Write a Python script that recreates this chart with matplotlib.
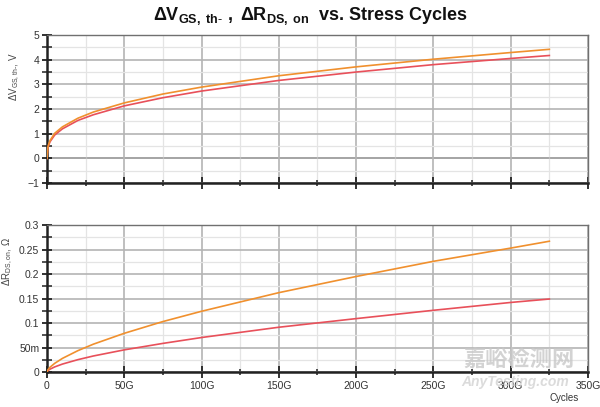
import matplotlib
matplotlib.use("Agg")
import matplotlib.pyplot as plt
from matplotlib.ticker import MultipleLocator, FuncFormatter

plt.rcParams['font.family'] = ['Liberation Sans', 'DejaVu Sans']
plt.rcParams['mathtext.fontset'] = 'custom'
plt.rcParams['mathtext.rm'] = 'Liberation Sans'
plt.rcParams['mathtext.it'] = 'Liberation Sans'
plt.rcParams['mathtext.bf'] = 'Liberation Sans:bold'

# cycles in G (1e9)
cycles = [0, 0.5, 1, 2, 5, 10, 20, 30, 50, 75, 100, 150, 200, 250, 300, 325]
dv_orange = [0, 0.43, 0.56, 0.73, 1.02, 1.28, 1.63, 1.88, 2.25, 2.61, 2.89, 3.35, 3.71, 4.02, 4.29, 4.42]
dv_red    = [0, 0.40, 0.52, 0.68, 0.95, 1.20, 1.54, 1.77, 2.13, 2.46, 2.73, 3.16, 3.50, 3.80, 4.05, 4.17]
dr_orange = [0, 0.0040, 0.0062, 0.0098, 0.0177, 0.0278, 0.0436, 0.0568, 0.079, 0.103, 0.124, 0.162, 0.195, 0.226, 0.253, 0.267]
dr_red    = [0, 0.0024, 0.0037, 0.0058, 0.0104, 0.0162, 0.0252, 0.0327, 0.0452, 0.0584, 0.0704, 0.0914, 0.109, 0.126, 0.142, 0.149]

ORANGE = '#F0902E'
RED = '#E8505A'

fig = plt.figure(figsize=(6.0, 4.07), dpi=100)
ax1 = fig.add_axes([0.0783, 0.550, 0.9017, 0.364])
ax2 = fig.add_axes([0.0783, 0.086, 0.9017, 0.361])

def style(ax, ymaj, ymin):
    ax.set_xlim(0, 350)
    ax.xaxis.set_major_locator(MultipleLocator(50))
    ax.xaxis.set_minor_locator(MultipleLocator(25))
    ax.yaxis.set_major_locator(MultipleLocator(ymaj))
    ax.yaxis.set_minor_locator(MultipleLocator(ymin))
    ax.grid(which='major', color='#b4b4b4', lw=1.2, zorder=0)
    ax.grid(which='minor', color='#e4e4e4', lw=0.9, zorder=0)
    for s in ['top', 'right']:
        ax.spines[s].set_color('#707070')
        ax.spines[s].set_linewidth(1.0)
    for s in ['left', 'bottom']:
        ax.spines[s].set_color('#222222')
        ax.spines[s].set_linewidth(1.8)
    ax.tick_params(which='major', direction='inout', length=9, width=1.3, color='#222222',
                   labelsize=7.5, labelcolor='#333333', pad=2)
    ax.tick_params(which='minor', direction='inout', length=5, width=1.1, color='#222222')
    ax.tick_params(axis='y', which='minor', length=7)
    ax.tick_params(axis='y', which='major', length=7)

style(ax1, 1, 0.5)
ax1.set_ylim(-1, 5)
ax1.axhline(0, color='#555555', lw=1.3, zorder=1)
ax1.plot(cycles, dv_red, color=RED, lw=1.2, zorder=3)
ax1.plot(cycles, dv_orange, color=ORANGE, lw=1.2, zorder=3)
ax1.tick_params(axis='x', labelbottom=False)
ax1.text(-0.060, 0.72, r'$\Delta V_{\text{GS, th-}}$, V', transform=ax1.transAxes,
         rotation=90, ha='center', va='center', fontsize=7, color='#444444')

style(ax2, 0.05, 0.025)
ax2.set_ylim(0, 0.3)
ax2.plot(cycles, dr_red, color=RED, lw=1.2, zorder=3)
ax2.plot(cycles, dr_orange, color=ORANGE, lw=1.2, zorder=3)

def yfmt(v, pos):
    if abs(v) < 1e-9:
        return '0'
    if abs(v - 0.05) < 1e-9:
        return '50m'
    return ('%.2f' % v).rstrip('0').rstrip('.')
ax2.yaxis.set_major_formatter(FuncFormatter(yfmt))
ax2.xaxis.set_major_formatter(FuncFormatter(lambda v, p: '0' if v == 0 else '%dG' % v))
ax2.text(-0.073, 0.75, r'$\Delta R_{\text{DS, on}}$, $\Omega$', transform=ax2.transAxes,
         rotation=90, ha='center', va='center', fontsize=7, color='#444444')
ax2.text(0.955, -0.175, 'Cycles', transform=ax2.transAxes, ha='center', va='center',
         fontsize=7, color='#333333')

fig.text(0.517, 0.960, r'$\mathbf{\Delta V}_{\mathbf{GS,\ th}\text{-}}\ \mathbf{,\ \Delta R}_{\mathbf{DS,\ on}}$  vs. Stress Cycles',
         ha='center', va='center', fontsize=13, fontweight='bold', color='#111111')

# watermark
fig.text(0.865, 0.118, '嘉峪检测网', family=['Noto Sans CJK SC', 'DejaVu Sans'], fontsize=16,
         color='#c8c8c8', alpha=0.8, ha='center', va='center', fontweight='bold')
fig.text(0.858, 0.062, 'AnyTesting.com', fontsize=10, style='italic', color='#d2d2d2',
         alpha=0.8, ha='center', va='center', fontweight='bold')

fig.savefig('out.png', dpi=100)
